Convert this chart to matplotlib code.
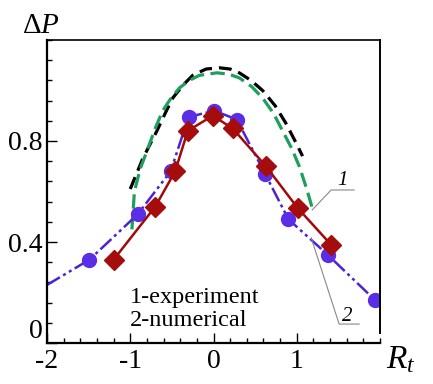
import matplotlib
matplotlib.use("Agg")
import matplotlib.pyplot as plt
import matplotlib.transforms as mtransforms
from matplotlib.ticker import MultipleLocator

plt.rcParams["font.family"] = "Liberation Serif"
plt.rcParams["mathtext.fontset"] = "custom"
plt.rcParams["mathtext.rm"] = "Liberation Serif"
plt.rcParams["mathtext.it"] = "Liberation Serif:italic"
plt.rcParams["axes.unicode_minus"] = False

# experiment (red diamonds)
exp_x = [-1.2, -0.7, -0.46, -0.31, -0.01, 0.23, 0.63, 1.01, 1.41]
exp_y = [0.33, 0.54, 0.68, 0.84, 0.90, 0.85, 0.70, 0.535, 0.39]

# numerical (blue circles + dash-dot-dot line)
num_x = [-1.49, -0.91, -0.515, -0.30, 0.01, 0.28, 0.62, 0.90, 1.37, 1.94]
num_y = [0.33, 0.51, 0.68, 0.895, 0.92, 0.885, 0.67, 0.49, 0.35, 0.17]
num_line_x = [-2.0] + num_x
num_line_y = [0.23] + num_y

# green dashed curve
green_x = [-0.98, -0.95, -0.88, -0.80, -0.70, -0.61, -0.51, -0.41, -0.29, -0.17,
           0.04, 0.18, 0.31, 0.46, 0.59, 0.72, 0.83, 0.94, 1.03, 1.12, 1.19]
green_y = [0.45, 0.60, 0.69, 0.76, 0.85, 0.92, 0.97, 1.01, 1.04, 1.06,
           1.07, 1.065, 1.05, 1.015, 0.97, 0.91, 0.84, 0.77, 0.70, 0.61, 0.53]

# black dashed curve
black_x = [-1.0, -0.85, -0.68, -0.58, -0.49, -0.37, -0.25, -0.09, 0.07, 0.20, 0.31,
           0.45, 0.59, 0.74, 0.87, 0.98, 1.07]
black_y = [0.61, 0.73, 0.84, 0.91, 0.97, 1.02, 1.06, 1.085, 1.09, 1.085, 1.07,
           1.04, 1.00, 0.94, 0.87, 0.80, 0.74]

fig = plt.figure(figsize=(4.33, 3.84), dpi=100)
ax = fig.add_axes([47 / 433, 41 / 384, 333 / 433, 303 / 384])

ax.plot(black_x, black_y, color="black", lw=2.3, ls=(0, (4, 2.2)))
ax.plot(green_x, green_y, color="#1f9e5c", lw=2.3, ls=(0, (4.5, 2)))
ax.plot(num_line_x, num_line_y, color="#4a22d8", lw=1.8,
        ls=(0, (6, 1.5, 1.2, 1.5, 1.2, 1.5)))
ax.plot(num_x, num_y, ls="none", marker="o", ms=10, color="#5a2ee6")
ax.plot(exp_x, exp_y, color="#a00a0a", lw=1.8, marker="D", ms=10,
        mfc="#a50d0d", mec="#a50d0d")

# leader lines
ax.plot([1.186, 1.413, 1.689], [0.527, 0.606, 0.606], color="#888888", lw=0.8)
ax.plot([1.174, 1.509, 1.749], [0.416, 0.075, 0.075], color="#888888", lw=0.8)
ax.text(1.545, 0.645, "1", fontsize=15, style="italic", ha="center", va="center")
ax.text(1.605, 0.103, "2", fontsize=15, style="italic", ha="center", va="center")

ax.text(-1.0, 0.182, "1-experiment", fontsize=17.5, va="center")
ax.text(-1.0, 0.091, "2-numerical", fontsize=17.5, va="center")

ax.set_xlim(-2, 2)
ax.set_ylim(0, 1.2)
ax.set_xticks([-2, -1, 0, 1])
ax.set_xticklabels(["-2", "-1", "0", "1"])
ax.set_yticks([0, 0.4, 0.8])
ax.set_yticklabels(["0", "0.4", "0.8"])
ax.xaxis.set_minor_locator(MultipleLocator(0.2))
ax.yaxis.set_minor_locator(MultipleLocator(0.08))
ax.tick_params(which="both", direction="in", labelsize=20, width=1)
ax.tick_params(which="major", length=7)
ax.tick_params(which="minor", length=3.5)
ax.tick_params(axis="x", pad=4)
ax.tick_params(axis="y", pad=3)

# lift the "0" label like the reference
lbl0 = ax.get_yticklabels()[0]
lbl0.set_transform(lbl0.get_transform() + mtransforms.ScaledTranslation(0, 14 / 100, fig.dpi_scale_trans))

for s in ["left", "bottom"]:
    ax.spines[s].set_linewidth(1.6)
ax.spines["top"].set_linewidth(1.2)
ax.spines["right"].set_linewidth(1.4)
ax.spines["right"].set_bounds(0.04, 1.2)

fig.text(22 / 433, 1 - 33 / 384, r"$\Delta P$", fontsize=21, va="baseline")
fig.text(386 / 433, 1 - 368 / 384, r"$R_t$", fontsize=24, va="baseline")

fig.savefig("out.png", dpi=100)
